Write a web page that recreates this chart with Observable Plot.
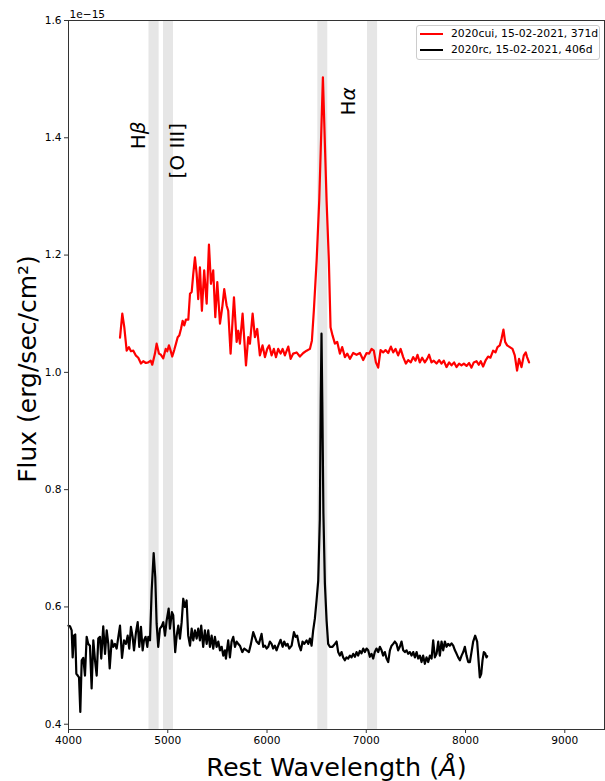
<!DOCTYPE html>
<html>
<head>
<meta charset="utf-8">
<script src="https://cdn.jsdelivr.net/npm/d3@7"></script>
<script src="https://cdn.jsdelivr.net/npm/@observablehq/plot@0.6"></script>
<style>
  body { margin: 0; background: #fff; font-family: "DejaVu Sans", sans-serif; }
  #wrap { position: relative; width: 605px; height: 781px; }
  #legend { position: absolute; left: 416px; top: 25px; width: 182px; height: 33px;
    border: 1px solid #cccccc; border-radius: 3px; background: rgba(255,255,255,0.8);
    font-family: "DejaVu Sans", sans-serif; font-size: 10.8px; color: #000; }
  .row { position: absolute; left: 0; height: 14px; width: 100%; }
  .handle { position: absolute; left: 3px; top: 6px; width: 23px; height: 2px; }
  .lab { position: absolute; left: 34px; top: 0px; line-height: 14px; white-space: nowrap; }
</style>
</head>
<body>
<div id="wrap"></div>
<script>
// ---- data (flux in units of 1e-15 erg/s/cm^2) ----
const seriesNames = ["2020cui, 15-02-2021, 371d", "2020rc, 15-02-2021, 406d"];
const seriesColors = ["#ff0000", "#000000"];

const redWave = [4519,4542,4562,4586,4609,4629,4653,4677,4703,4730,4753,4780,4804,4828,4844,4871,4888,4911,4931,4955,4979,4995,5012,5029,5045,5065,5083,5100,5116,5133,5150,5166,5183,5207,5224,5241,5257,5274,5291,5307,5324,5344,5367,5392,5415,5435,5458,5479,5499,5526,5549,5569,5593,5609,5633,5667,5694,5710,5727,5754,5788,5811,5828,5855,5878,5901,5928,5955,5979,6002,6022,6046,6069,6090,6113,6137,6157,6180,6214,6238,6264,6298,6331,6365,6399,6432,6452,6472,6500,6526,6563,6600,6623,6640,6660,6684,6707,6734,6757,6785,6808,6835,6868,6902,6936,6969,7003,7029,7053,7076,7097,7120,7144,7170,7194,7221,7248,7271,7295,7321,7346,7372,7399,7422,7449,7472,7496,7516,7539,7563,7590,7613,7633,7657,7680,7708,7734,7758,7781,7808,7835,7859,7885,7909,7935,7959,7983,8010,8036,8060,8083,8110,8133,8153,8177,8204,8227,8251,8278,8302,8322,8345,8362,8382,8399,8419,8446,8473,8496,8519,8539,8564,8587,8607,8620,8640];
const redFlux = [1.059,1.100,1.077,1.037,1.043,1.036,1.037,1.029,1.025,1.015,1.019,1.016,1.017,1.020,1.013,1.032,1.049,1.032,1.030,1.024,1.040,1.036,1.046,1.037,1.027,1.038,1.049,1.060,1.063,1.074,1.088,1.080,1.090,1.090,1.134,1.137,1.168,1.196,1.168,1.125,1.179,1.105,1.174,1.117,1.218,1.151,1.174,1.094,1.154,1.083,1.111,1.142,1.114,1.105,1.032,1.128,1.052,1.071,1.049,1.100,1.012,1.060,1.049,1.100,1.060,1.074,1.029,1.046,1.026,1.040,1.046,1.029,1.040,1.026,1.040,1.032,1.040,1.029,1.044,1.023,1.032,1.034,1.027,1.033,1.037,1.040,1.054,1.106,1.191,1.293,1.503,1.293,1.191,1.077,1.063,1.049,1.052,1.032,1.043,1.026,1.032,1.023,1.033,1.030,1.033,1.021,1.033,1.032,1.040,1.037,1.017,1.008,1.038,1.034,1.038,1.033,1.044,1.034,1.040,1.029,1.040,1.026,1.015,1.021,1.017,1.026,1.020,1.030,1.017,1.025,1.017,1.023,1.030,1.017,1.020,1.015,1.021,1.015,1.020,1.009,1.017,1.012,1.017,1.009,1.015,1.012,1.015,1.011,1.016,1.008,1.017,1.019,1.013,1.019,1.010,1.021,1.027,1.025,1.037,1.034,1.043,1.046,1.057,1.073,1.052,1.046,1.043,1.040,1.029,1.003,1.023,1.009,1.029,1.034,1.026,1.017];

const blackWave = [4000,4015,4032,4042,4055,4068,4079,4093,4106,4119,4133,4149,4166,4183,4199,4216,4233,4250,4267,4284,4300,4317,4330,4350,4368,4385,4401,4415,4435,4451,4468,4485,4502,4519,4539,4559,4579,4596,4612,4629,4646,4660,4680,4697,4713,4730,4747,4760,4777,4794,4804,4821,4838,4858,4874,4888,4904,4921,4939,4955,4972,4989,5009,5022,5042,5055,5075,5090,5106,5123,5140,5156,5173,5190,5206,5224,5241,5257,5274,5291,5307,5324,5337,5357,5374,5392,5408,5425,5442,5458,5475,5492,5509,5526,5543,5559,5576,5586,5609,5626,5643,5660,5677,5694,5710,5727,5751,5771,5795,5818,5838,5861,5878,5895,5918,5945,5962,5979,5996,6012,6029,6046,6062,6079,6096,6113,6137,6157,6173,6190,6207,6224,6248,6271,6288,6304,6324,6341,6358,6375,6399,6415,6432,6449,6465,6482,6499,6516,6532,6541,6549,6557,6568,6583,6600,6616,6633,6660,6684,6701,6717,6734,6751,6767,6784,6801,6818,6835,6852,6868,6885,6902,6918,6935,6952,6969,6986,7003,7019,7036,7053,7070,7086,7103,7120,7137,7154,7170,7187,7204,7221,7238,7255,7271,7288,7305,7321,7338,7355,7372,7389,7406,7422,7439,7456,7473,7490,7507,7523,7540,7557,7573,7590,7607,7624,7641,7658,7674,7691,7708,7725,7741,7758,7775,7792,7809,7825,7842,7859,7876,7893,7910,7926,7943,7960,7977,7993,8010,8027,8044,8060,8077,8097,8117,8131,8144,8158,8171,8184,8198,8211,8218];
const blackFlux = [0.568,0.567,0.560,0.514,0.551,0.553,0.486,0.483,0.480,0.421,0.509,0.513,0.483,0.549,0.537,0.534,0.461,0.543,0.509,0.483,0.546,0.549,0.512,0.567,0.520,0.560,0.537,0.495,0.543,0.532,0.537,0.529,0.549,0.568,0.513,0.543,0.537,0.551,0.529,0.566,0.549,0.526,0.557,0.574,0.532,0.566,0.526,0.543,0.549,0.532,0.549,0.543,0.628,0.692,0.651,0.571,0.532,0.563,0.567,0.574,0.551,0.577,0.597,0.563,0.591,0.586,0.523,0.551,0.568,0.546,0.574,0.614,0.600,0.611,0.551,0.534,0.563,0.543,0.560,0.546,0.563,0.543,0.568,0.532,0.560,0.537,0.560,0.532,0.551,0.529,0.549,0.532,0.541,0.526,0.532,0.517,0.526,0.512,0.543,0.514,0.541,0.549,0.532,0.541,0.537,0.534,0.523,0.529,0.526,0.523,0.537,0.557,0.549,0.541,0.537,0.554,0.532,0.534,0.529,0.532,0.541,0.537,0.529,0.534,0.526,0.534,0.544,0.532,0.541,0.534,0.537,0.529,0.534,0.557,0.549,0.551,0.534,0.526,0.541,0.537,0.543,0.537,0.546,0.534,0.560,0.580,0.611,0.645,0.750,0.950,1.066,0.950,0.760,0.640,0.577,0.537,0.532,0.532,0.537,0.541,0.523,0.517,0.523,0.514,0.509,0.514,0.512,0.517,0.514,0.520,0.515,0.523,0.517,0.525,0.521,0.529,0.523,0.529,0.526,0.515,0.520,0.512,0.523,0.529,0.523,0.532,0.526,0.517,0.523,0.512,0.506,0.526,0.534,0.537,0.541,0.537,0.526,0.532,0.541,0.526,0.523,0.526,0.520,0.523,0.517,0.523,0.514,0.523,0.512,0.517,0.506,0.517,0.503,0.514,0.506,0.517,0.512,0.543,0.514,0.520,0.541,0.517,0.541,0.526,0.541,0.532,0.537,0.534,0.538,0.534,0.526,0.520,0.514,0.509,0.517,0.523,0.532,0.517,0.506,0.506,0.523,0.541,0.551,0.541,0.509,0.480,0.486,0.509,0.523,0.521,0.514,0.516];

// shaded line windows
const bandLo = [4811, 4957, 6512, 7012];
const bandHi = [4913, 5058, 6612, 7114];

// line annotations
const lineLabels = ["Hβ", "[O III]", "Hα"];
const lineLabelWave = [4705, 5100, 6825];
const lineLabelFlux = [1.404, 1.378, 1.462];

const xTicks = [4000, 5000, 6000, 7000, 8000, 9000];
const yTicks = [0.4, 0.6, 0.8, 1.0, 1.2, 1.4, 1.6];
const xLabel = "Rest Wavelength (Å)";
const yLabel = "Flux (erg/sec/cm²)";
const offsetLabel = "1e−15";

// ---- build tables ----
const red = redWave.map((w, i) => ({w, f: redFlux[i]}));
const black = blackWave.map((w, i) => ({w, f: blackFlux[i]}));
const bands = bandLo.map((lo, i) => ({lo, hi: bandHi[i]}));
const labels = lineLabels.map((t, i) => ({t, w: lineLabelWave[i], f: lineLabelFlux[i]}));

const chart = Plot.plot({
  width: 605, height: 781,
  marginTop: 20, marginBottom: 52, marginLeft: 68, marginRight: 1,
  style: {fontFamily: "DejaVu Sans, sans-serif", fontSize: "10.6px", color: "#000", background: "#fff"},
  x: {domain: [4000, 9400]},
  y: {domain: [0.391, 1.6]},
  marks: [
    Plot.rect(bands, {x1: "lo", x2: "hi", fill: "#e6e6e6"}),
    Plot.line(red, {x: "w", y: "f", stroke: seriesColors[0], strokeWidth: 2.2, strokeLinejoin: "round"}),
    Plot.line(black, {x: "w", y: "f", stroke: seriesColors[1], strokeWidth: 2.2, strokeLinejoin: "round"}),
    Plot.text(labels, {x: "w", y: "f", text: "t", rotate: -90, fontSize: 20, fill: "#000"}),
    Plot.text([offsetLabel], {frameAnchor: "top-left", textAnchor: "start", lineAnchor: "bottom", dy: -3, dx: 1, fontSize: 10.6}),
    Plot.frame({stroke: "#333", strokeWidth: 1}),
    Plot.axisX({ticks: xTicks, tickFormat: d => String(d), tickSize: 4, tickPadding: 3, label: null, stroke: "#333"}),
    Plot.axisY({ticks: yTicks, tickFormat: d => d.toFixed(1), tickSize: 4, tickPadding: 3, label: null, stroke: "#333"}),
    Plot.text([xLabel], {frameAnchor: "bottom", textAnchor: "middle", lineAnchor: "top", dy: 28, fontSize: 25.5}),
    Plot.text([yLabel], {frameAnchor: "left", textAnchor: "middle", rotate: -90, lineAnchor: "middle", dx: -41, dy: -6, fontSize: 25})
  ]
});

// italicise math-mode symbols as in the original
d3.select(chart).selectAll("text").each(function() {
  const t = this.textContent;
  if (/[βαÅ]/.test(t) && this.children.length === 0) {
    const parts = t.split(/([βαÅ])/);
    this.textContent = "";
    for (const p of parts) {
      if (!p) continue;
      const ts = document.createElementNS("http://www.w3.org/2000/svg", "tspan");
      if (/[βαÅ]/.test(p)) ts.setAttribute("font-style", "italic");
      ts.textContent = p;
      this.appendChild(ts);
    }
  }
});

const wrap = document.getElementById("wrap");
wrap.appendChild(chart);

const legend = document.createElement("div");
legend.id = "legend";
seriesNames.forEach((name, i) => {
  const row = document.createElement("div");
  row.className = "row";
  row.style.top = (1 + i * 16) + "px";
  const h = document.createElement("div");
  h.className = "handle";
  h.style.background = seriesColors[i];
  const l = document.createElement("div");
  l.className = "lab";
  l.textContent = name;
  row.appendChild(h); row.appendChild(l);
  legend.appendChild(row);
});
wrap.appendChild(legend);
</script>
</body>
</html>
